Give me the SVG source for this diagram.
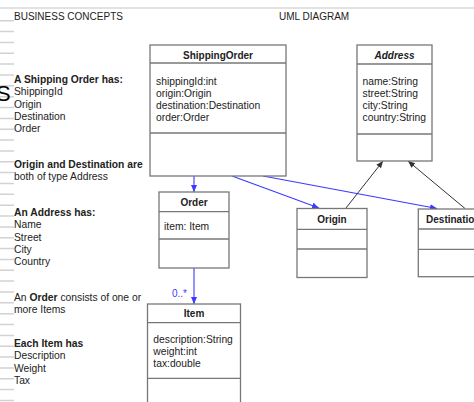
<svg xmlns="http://www.w3.org/2000/svg" width="474" height="402" viewBox="0 0 474 402">
<style>
text{font-family:"Liberation Sans",Arial,sans-serif;fill:#222}
.h{font-size:10px}
.t{font-size:10.3px}
.b{font-weight:bold}
.box{fill:#fff;stroke:#777;stroke-width:1.3}
.div{stroke:#777;stroke-width:1.3}
.ttl{font-size:10px;font-weight:bold;text-anchor:middle}
.att{font-size:10.3px}
.blue{stroke:#3a3aff;stroke-width:1.1;fill:none}
.blk{stroke:#333;stroke-width:1;fill:none}
</style>
<defs>
<marker id="ab" markerUnits="userSpaceOnUse" markerWidth="8" markerHeight="8" refX="7" refY="4" orient="auto"><path d="M0,1 L7,4 L0,7 Z" fill="#3a3aff"/></marker>
<marker id="ak" markerUnits="userSpaceOnUse" markerWidth="8" markerHeight="8" refX="7" refY="4" orient="auto"><path d="M0,1 L7,4 L0,7 Z" fill="#333"/></marker>
</defs>
<rect width="474" height="402" fill="#fff"/>
<g id="margin">
<line x1="0" y1="8" x2="474" y2="8" stroke="#e2e2e2" stroke-width="2"/>
<path stroke="#d2d2d2" stroke-width="1.5" d="M0,20.7h14M0,31.5h14M0,42.4h14M0,53.2h14M0,64.1h14M0,75h14M0,85.8h14M0,96.7h14M0,107.5h14M0,118.4h14M0,129.2h14M0,140.1h14M0,150.9h14M0,161.8h14M0,172.6h14M0,183.5h14M0,194.3h14M0,205.2h14M0,216h14M0,226.9h14M0,237.7h14M0,248.6h14M0,259.4h14M0,270.3h14M0,281.1h14M0,292h14M0,302.8h14M0,313.7h14M0,324.5h14M0,335.4h14M0,346.2h14M0,357.1h14M0,367.9h14M0,378.8h14M0,389.6h14M0,400.5h14"/>
<text x="-4" y="100.5" style="font-size:22px;fill:#000">S</text>
</g>
<g id="left-text">
<text class="h" x="14" y="20">BUSINESS CONCEPTS</text>
<text class="h" x="279" y="20">UML DIAGRAM</text>
<text class="t b" x="14" y="83">A Shipping Order has:</text>
<text class="t" x="14" y="95.3">ShippingId</text>
<text class="t" x="14" y="107.6">Origin</text>
<text class="t" x="14" y="119.9">Destination</text>
<text class="t" x="14" y="132.2">Order</text>
<text class="t b" x="14" y="168">Origin and Destination are</text>
<text class="t" x="14" y="180.3">both of type Address</text>
<text class="t b" x="14" y="216">An Address has:</text>
<text class="t" x="14" y="228.3">Name</text>
<text class="t" x="14" y="240.6">Street</text>
<text class="t" x="14" y="252.9">City</text>
<text class="t" x="14" y="265.2">Country</text>
<text class="t" x="14" y="301">An <tspan class="b">Order</tspan> consists of one or</text>
<text class="t" x="14" y="313.3">more Items</text>
<text class="t b" x="14" y="347">Each Item has</text>
<text class="t" x="14" y="359.3">Description</text>
<text class="t" x="14" y="371.6">Weight</text>
<text class="t" x="14" y="383.9">Tax</text>
</g>
<g id="connectors">
<path class="blue" d="M194,176 L194,192" marker-end="url(#ab)"/>
<path class="blue" d="M194,268 L194,304" marker-end="url(#ab)"/>
<path class="blue" d="M232,176 L319,208" marker-end="url(#ab)"/>
<path class="blue" d="M263,176 L437,208.5" marker-end="url(#ab)"/>
<path class="blk" d="M346,208 L383,161" marker-end="url(#ak)"/>
<path class="blk" d="M465,208.5 L408,161" marker-end="url(#ak)"/>
<text x="172" y="297" style="font-size:10px;fill:#3a3aff">0..*</text>
</g>
<g id="ShippingOrder">
<rect class="box" x="150" y="45" width="136" height="131"/>
<line class="div" x1="150" y1="63" x2="286" y2="63"/>
<line class="div" x1="150" y1="133" x2="286" y2="133"/>
<text class="ttl" x="218" y="59">ShippingOrder</text>
<text class="att" x="156" y="84.5">shippingId:int</text>
<text class="att" x="156" y="96.7">origin:Origin</text>
<text class="att" x="156" y="108.9">destination:Destination</text>
<text class="att" x="156" y="121.1">order:Order</text>
</g>
<g id="Address">
<rect class="box" x="357" y="45" width="75" height="116"/>
<line class="div" x1="357" y1="64" x2="432" y2="64"/>
<line class="div" x1="357" y1="134" x2="432" y2="134"/>
<text class="ttl" x="394.5" y="59.3" font-style="italic">Address</text>
<text class="att" x="362.5" y="84.5">name:String</text>
<text class="att" x="362.5" y="96.7">street:String</text>
<text class="att" x="362.5" y="108.9">city:String</text>
<text class="att" x="362.5" y="121.1">country:String</text>
</g>
<g id="Order">
<rect class="box" x="159" y="192" width="70" height="76"/>
<line class="div" x1="159" y1="211.7" x2="229" y2="211.7"/>
<line class="div" x1="159" y1="239" x2="229" y2="239"/>
<text class="ttl" x="194" y="205.5">Order</text>
<text class="att" x="164" y="229.5">item: Item</text>
</g>
<g id="Origin">
<rect class="box" x="297" y="208.5" width="70" height="69"/>
<line class="div" x1="297" y1="229.3" x2="367" y2="229.3"/>
<line class="div" x1="297" y1="249" x2="367" y2="249"/>
<text class="ttl" x="332" y="222.5">Origin</text>
</g>
<g id="Destination">
<rect class="box" x="418.3" y="209" width="70" height="67.7"/>
<line class="div" x1="418.3" y1="229" x2="488" y2="229"/>
<line class="div" x1="418.3" y1="249.3" x2="488" y2="249.3"/>
<text class="ttl" x="453.3" y="223">Destination</text>
</g>
<g id="Item">
<rect class="box" x="147.5" y="304" width="93" height="110"/>
<line class="div" x1="147.5" y1="322.7" x2="240.5" y2="322.7"/>
<line class="div" x1="147.5" y1="378.3" x2="240.5" y2="378.3"/>
<text class="ttl" x="194" y="317">Item</text>
<text class="att" x="153.3" y="342.5">description:String</text>
<text class="att" x="153.3" y="354.7">weight:int</text>
<text class="att" x="153.3" y="366.9">tax:double</text>
</g>
</svg>
